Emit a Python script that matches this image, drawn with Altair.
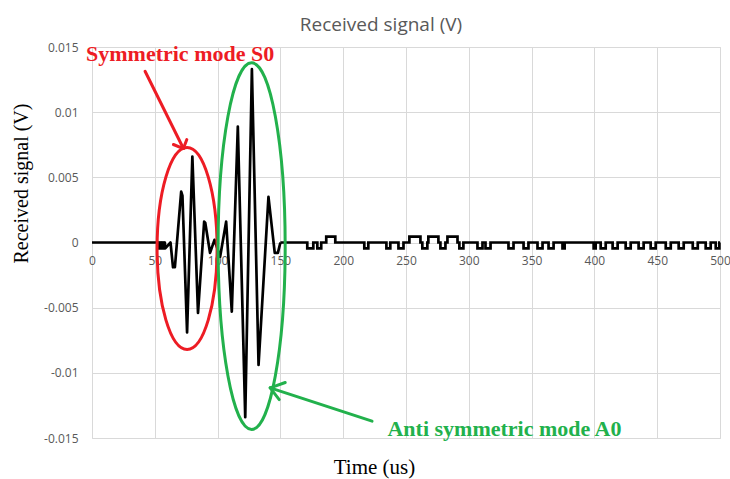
import altair as alt
import pandas as pd

# ---------------- data ----------------
x_ticks = [0, 50, 100, 150, 200, 250, 300, 350, 400, 450, 500]
y_ticks = [-0.015, -0.01, -0.005, 0, 0.005, 0.01, 0.015]

# wave packets (time in us, signal in V)
packet_t = [0, 52, 52.3, 52.6, 52.9, 53.2, 53.5, 53.8, 54.1, 54.4, 54.7, 55, 55.3, 55.6, 55.9,
            56.2, 56.5, 56.8, 57.1, 57.4, 57.7, 58, 58.3,
            62.5, 64.5, 66, 71, 72, 75.7, 79.9, 84.4, 89.3, 90.2, 94, 97.5, 102,
            106.8, 111.3, 116.1, 122, 127.3, 132.6, 140.5, 145.5, 148, 150]
packet_v = [0, 0, -0.00045, 0, -0.00045, 0, -0.00045, 0, -0.00045, 0, -0.00045, 0, -0.00045, 0, -0.00045,
            0, -0.00045, 0, -0.00045, 0, -0.00045, 0, -0.00045,
            0, -0.0019, -0.0019, 0.0039, 0.0036, -0.0069, 0.0066, -0.0054, 0.0016, 0.0015, -0.0008, 0.0002, -0.0011,
            0.0016, -0.0053, 0.0089, -0.0134, 0.0133, -0.0094, 0.0035, -0.0008, -0.0008, 0]

# quantisation noise tail (value holds until next time)
tail_t = [150, 171.4, 176.2, 179.4, 182.5, 186.5, 193.7, 216.8, 220, 234.4, 237.5, 244, 248,
          252.7, 261.5, 263, 267, 267.8, 275.8, 277.4, 281.4, 283, 291, 292.5, 295.7, 306.9,
          310.9, 313.3, 317.3, 331.6, 335.6, 343.6, 347.5, 354.7, 358.7, 363.5, 367.5, 374.6,
          376.3, 399.4, 401, 405, 409, 414.5, 418.5, 424.9, 428.9, 435.2, 439.2, 444.8, 448.8,
          456.8, 460.8, 467.1, 471.1, 478.3, 482.3, 488.6, 492.6, 496.6, 499.5, 500]
tail_v = [0, -0.00045, 0, -0.00045, 0, 0.00045, 0, -0.00045, 0, -0.00045, 0, -0.00045, 0,
          0.00045, 0, -0.00045, 0, 0.00045, 0, -0.00045, 0, 0.00045, 0, -0.00045, 0, -0.00045,
          0, -0.00045, 0, -0.00045, 0, -0.00045, 0, -0.00045, 0, -0.00045, 0, -0.00045,
          0, -0.00045, 0, -0.00045, 0, -0.00045, 0, -0.00045, 0, -0.00045, 0, -0.00045, 0,
          -0.00045, 0, -0.00045, 0, -0.00045, 0, -0.00045, 0, -0.00045, 0, 0]

# annotation ellipse centres
red_ellipse_t = [75.7]
red_ellipse_v = [-0.00046]
green_ellipse_t = [127.1]
green_ellipse_v = [-0.00028]

# arrows: shaft + two wings
red_arrow_t = [42.25, 72.78, 72.78]
red_arrow_v = [0.01314, 0.00721, 0.00721]
red_arrow_t2 = [72.78, 64.81, 75.49]
red_arrow_v2 = [0.00721, 0.00752, 0.0079]
green_arrow_t = [222.96, 141.89, 141.89]
green_arrow_v = [-0.01371, -0.01115, -0.01115]
green_arrow_t2 = [141.89, 153.85, 149.06]
green_arrow_v2 = [-0.01115, -0.01074, -0.01205]

red_label = ["Symmetric mode S0"]
red_label_t = [70.15]
red_label_v = [0.01389]
green_label = ["Anti symmetric mode A0"]
green_label_t = [328.4]
green_label_v = [-0.01486]

# ---------------- chart ----------------
RED = "#ed1c24"
GREEN = "#22b14c"
GRID = "#d9d9d9"
LABEL = "#595959"

xscale = alt.Scale(domain=[0, 500], nice=False, zero=False)
yscale = alt.Scale(domain=[-0.015, 0.015], nice=False, zero=False)

x_axis = alt.Axis(values=x_ticks, format="d", offset=-195.5, domain=False, ticks=False,
                  labelFlush=False, labelPadding=13, labelFont="Open Sans", labelFontSize=12,
                  labelColor=LABEL, grid=True, gridColor=GRID, gridWidth=1,
                  title="Time (us)", titleFont="Liberation Serif", titleFontSize=21,
                  titleFontWeight="normal", titleColor="#000000", titleX=282, titleY=225,
                  titleBaseline="middle", titleAlign="center")
y_axis = alt.Axis(values=y_ticks, labelExpr="toString(datum.value)", domain=False, ticks=False,
                  labelPadding=14, labelFont="Open Sans", labelFontSize=12, labelColor=LABEL,
                  grid=True, gridColor=GRID, gridWidth=1,
                  title="Received signal (V)", titleFont="Liberation Serif", titleFontSize=20,
                  titleFontWeight="normal", titleColor="#000000", titleX=-71, titleY=136,
                  titleBaseline="middle", titleAlign="center")


def X(field="t"):
    return alt.X(f"{field}:Q", scale=xscale, axis=x_axis)


def Y(field="v"):
    return alt.Y(f"{field}:Q", scale=yscale, axis=y_axis)


packets = alt.Chart(pd.DataFrame({"t": packet_t, "v": packet_v})).mark_line(
    color="black", strokeWidth=2.7, interpolate="linear", strokeJoin="round"
).encode(x=X(), y=Y())

tail = alt.Chart(pd.DataFrame({"t": tail_t, "v": tail_v})).mark_line(
    color="black", strokeWidth=2.7, interpolate="step-after"
).encode(x=X(), y=Y())

red_ellipse = alt.Chart(pd.DataFrame({"t": red_ellipse_t, "v": red_ellipse_v})).mark_point(
    shape="M0,-1A0.297,1,0,1,1,0,1A0.297,1,0,1,1,0,-1Z",
    size=40804, filled=False, stroke=RED, strokeWidth=3, opacity=1
).encode(x=X(), y=Y())

green_ellipse = alt.Chart(pd.DataFrame({"t": green_ellipse_t, "v": green_ellipse_v})).mark_point(
    shape="M0,-1A0.183,1,0,1,1,0,1A0.183,1,0,1,1,0,-1Z",
    size=134400, filled=False, stroke=GREEN, strokeWidth=3, opacity=1
).encode(x=X(), y=Y())

red_arrow = alt.Chart(pd.DataFrame({"t": red_arrow_t, "v": red_arrow_v,
                                    "t2": red_arrow_t2, "v2": red_arrow_v2})).mark_rule(
    color=RED, strokeWidth=3, strokeCap="round"
).encode(x=X(), y=Y(), x2="t2:Q", y2="v2:Q")

green_arrow = alt.Chart(pd.DataFrame({"t": green_arrow_t, "v": green_arrow_v,
                                      "t2": green_arrow_t2, "v2": green_arrow_v2})).mark_rule(
    color=GREEN, strokeWidth=3, strokeCap="round"
).encode(x=X(), y=Y(), x2="t2:Q", y2="v2:Q")

red_text = alt.Chart(pd.DataFrame({"t": red_label_t, "v": red_label_v, "s": red_label})).mark_text(
    font="Liberation Serif", fontSize=22, fontWeight="bold", color=RED,
    align="center", baseline="alphabetic"
).encode(x=X(), y=Y(), text="s:N")

green_text = alt.Chart(pd.DataFrame({"t": green_label_t, "v": green_label_v, "s": green_label})).mark_text(
    font="Liberation Serif", fontSize=22, fontWeight="bold", color=GREEN,
    align="center", baseline="alphabetic"
).encode(x=X(), y=Y(), text="s:N")

chart = alt.layer(
    packets, tail, red_ellipse, green_ellipse, red_arrow, green_arrow, red_text, green_text
).properties(
    width=628, height=391,
    autosize=alt.AutoSizeParams(type="none"),
    padding={"left": 92, "top": 47, "right": 10, "bottom": 41},
    title=alt.TitleParams("Received signal (V)", font="Open Sans", fontSize=19,
                          fontWeight="normal", color=LABEL, anchor="middle", frame="group",
                          dx=-25, baseline="alphabetic", offset=-9),
).configure_view(stroke=None).configure(background="white")

chart.save("out.html", embed_options={"renderer": "svg", "actions": False})
